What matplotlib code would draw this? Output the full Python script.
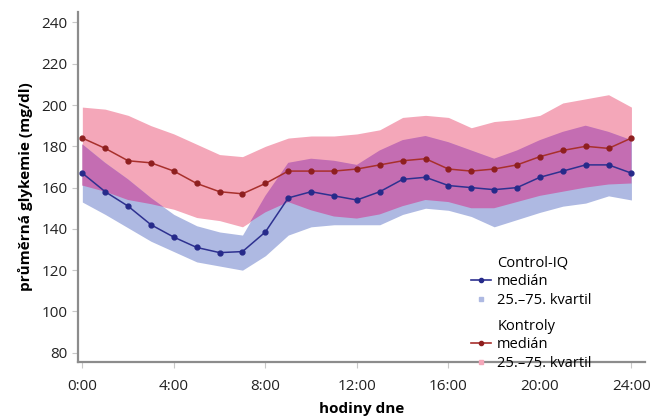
import numpy as np
import matplotlib
matplotlib.use("Agg")
import matplotlib.pyplot as plt
from matplotlib.lines import Line2D

plt.rcParams['font.family'] = ['Open Sans', 'DejaVu Sans']

# hours of the day, one value per hour
hours = list(range(25))

# Control-IQ
ciq_median = [167, 158, 151, 142, 136, 131, 128.5, 129, 138.5, 155, 158, 156, 154,
              158, 164, 165, 161, 160, 159, 160, 165, 168, 171, 171, 167]
ciq_q25 = [153, 147, 140.5, 134, 129, 124, 122, 120, 127, 137, 141, 142, 142,
           142, 147, 150, 149, 146, 141, 144.5, 148, 151, 152.5, 156, 154]
ciq_q75 = [181, 172, 164, 155, 147, 141.5, 138.5, 137, 156, 172, 174, 173, 171,
           178, 183, 185, 182, 178, 174, 178, 183, 187, 190, 187, 183]

# Kontroly
ctl_median = [184, 179, 173, 172, 168, 162, 158, 157, 162, 168, 168, 168, 169,
              171, 173, 174, 169, 168, 169, 171, 175, 178, 180, 179, 184]
ctl_q25 = [161, 158, 154, 152, 149.5, 145.5, 144, 141, 148, 153, 149, 146, 145,
           147, 151, 154, 153, 150, 150, 153, 156, 158, 160, 161.5, 162]
ctl_q75 = [199, 198, 195, 190, 186, 181, 176, 175, 180, 184, 185, 185, 186,
           188, 194, 195, 194, 189, 192, 193, 195, 201, 203, 205, 199]

xtick_hours = [0, 4, 8, 12, 16, 20, 24]
xtick_labels = ['0:00', '4:00', '8:00', '12:00', '16:00', '20:00', '24:00']
yticks = [80, 100, 120, 140, 160, 180, 200, 220, 240]

pink = '#F4A7B9'
blue = '#AEB9E2'
purple = '#C46DB2'
red_line = '#A8302C'
blue_line = '#2E3190'

fig = plt.figure(figsize=(6.59, 4.19), dpi=100)
ax = fig.add_axes([0.118, 0.136, 0.861, 0.835])

x = np.array(hours)
c_lo, c_hi = np.array(ciq_q25), np.array(ciq_q75)
k_lo, k_hi = np.array(ctl_q25), np.array(ctl_q75)

# bands: the overlap is drawn in its own purple colour
ax.fill_between(x, k_lo, k_hi, color=pink, lw=0)
ax.fill_between(x, c_lo, c_hi, color=blue, lw=0)
ov_lo = np.maximum(c_lo, k_lo)
ov_hi = np.minimum(c_hi, k_hi)
ax.fill_between(x, ov_lo, ov_hi, where=ov_hi >= ov_lo, color=purple, lw=0,
                interpolate=True)

ax.plot(x, ctl_median, color=red_line, lw=1.1, marker='o', ms=3.5,
        mfc='#8E1F1F', mec='#8E1F1F')
ax.plot(x, ciq_median, color=blue_line, lw=1.1, marker='o', ms=3.5,
        mfc='#262A8A', mec='#262A8A')

ax.set_xlim(-0.2, 24.6)
ax.set_ylim(75.5, 245)
ax.set_xticks(xtick_hours)
ax.set_xticklabels(xtick_labels)
ax.set_yticks(yticks)

for s in ['top', 'right']:
    ax.spines[s].set_visible(False)
for s in ['left', 'bottom']:
    ax.spines[s].set_color('#8C8C8C')
    ax.spines[s].set_linewidth(1.6)
ax.tick_params(axis='both', labelsize=11, colors='#C8C8C8', labelcolor='#222222',
               length=4, width=0.8)
ax.tick_params(axis='x', pad=8)

ax.set_ylabel('průměrná glykemie (mg/dl)', fontsize=11, fontweight='bold', labelpad=6)
ax.set_xlabel('hodiny dne', fontsize=11, fontweight='bold', labelpad=6)

# legends
blank = Line2D([], [], linestyle='none')
h_ciq = [blank,
         Line2D([], [], color=blue_line, lw=1.2, marker='o', ms=3, mfc='#262A8A', mec='#262A8A'),
         Line2D([], [], linestyle='none', marker='s', ms=3.5, color=blue)]
h_ctl = [blank,
         Line2D([], [], color=red_line, lw=1.2, marker='o', ms=3, mfc='#8E1F1F', mec='#8E1F1F'),
         Line2D([], [], linestyle='none', marker='s', ms=3.5, color=pink)]
lbl_ciq = ['Control-IQ', 'medián', '25.–75. kvartil']
lbl_ctl = ['Kontroly', 'medián', '25.–75. kvartil']

kw = dict(frameon=False, fontsize=10.5, handlelength=1.4, handletextpad=0.4,
          labelspacing=0.25, borderpad=0, loc='upper left')
leg1 = ax.legend(h_ciq, lbl_ciq, bbox_to_anchor=(0.68, 0.325), **kw)
ax.add_artist(leg1)
ax.legend(h_ctl, lbl_ctl, bbox_to_anchor=(0.68, 0.145), **kw)

fig.savefig('out.png', dpi=100)
